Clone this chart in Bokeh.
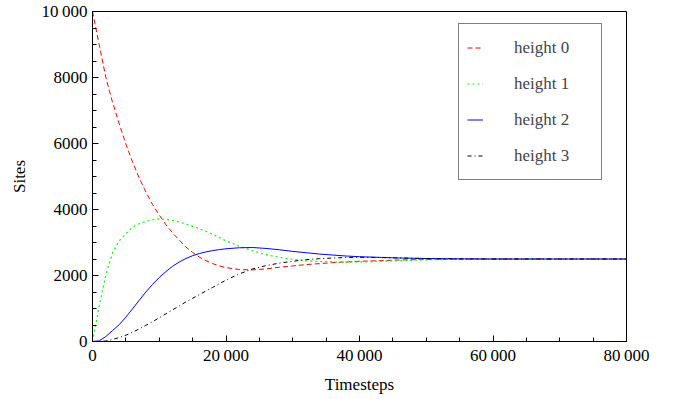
from bokeh.plotting import figure
from bokeh.models import Range1d, FixedTicker, Legend, LegendItem
from bokeh.embed import file_html
from bokeh.resources import INLINE

# ---- data ----
timesteps = [0, 1000, 2000, 3000, 4000, 5000, 6000, 7000, 8000, 9000, 10000,
             11000, 12000, 13000, 14000, 15000, 16000, 17000, 18000, 19000, 20000,
             22000, 24000, 26000, 28000, 30000, 32000, 34000, 36000, 38000, 40000,
             43000, 46000, 50000, 55000, 60000, 70000, 80000]

height0 = [10000, 9000, 8000, 7250, 6600, 5980, 5440, 4950, 4530, 4150, 3830,
           3540, 3290, 3070, 2860, 2700, 2560, 2450, 2360, 2290, 2240,
           2180, 2170, 2200, 2250, 2290, 2330, 2360, 2390, 2410, 2430,
           2450, 2470, 2485, 2495, 2500, 2500, 2500]

height1 = [0, 1060, 2020, 2680, 3050, 3260, 3470, 3570, 3640, 3690, 3715,
           3705, 3670, 3620, 3560, 3490, 3420, 3340, 3250, 3150, 3050,
           2890, 2750, 2630, 2550, 2490, 2450, 2425, 2410, 2405, 2410,
           2430, 2450, 2475, 2490, 2498, 2500, 2500]

height2 = [0, 20, 150, 330, 510, 740, 990, 1250, 1500, 1730, 1940,
           2120, 2280, 2410, 2515, 2600, 2665, 2715, 2755, 2785, 2810,
           2840, 2848, 2820, 2780, 2730, 2690, 2650, 2620, 2590, 2570,
           2550, 2530, 2515, 2505, 2500, 2500, 2500]

height3 = [0, 0, 15, 60, 120, 190, 280, 380, 490, 600, 720,
           840, 960, 1080, 1200, 1310, 1420, 1530, 1640, 1750, 1860,
           2050, 2200, 2300, 2375, 2430, 2480, 2510, 2530, 2545, 2550,
           2545, 2530, 2515, 2505, 2500, 2500, 2500]

series_labels = ["height 0", "height 1", "height 2", "height 3"]

x_ticks = [0, 20000, 40000, 60000, 80000]
x_tick_labels = ["0", "20\u2009000", "40\u2009000", "60\u2009000", "80\u2009000"]
y_ticks = [0, 2000, 4000, 6000, 8000, 10000]
y_tick_labels = ["0", "2000", "4000", "6000", "8000", "10\u2009000"]

FONT = "Liberation Serif"

p = figure(width=676, height=399, output_backend="svg", toolbar_location=None,
           x_range=Range1d(0, 80000), y_range=Range1d(0, 10000),
           min_border_left=92, min_border_right=50, min_border_top=11,
           min_border_bottom=58)

p.xgrid.visible = False
p.ygrid.visible = False
p.outline_line_color = "black"
p.outline_line_width = 1
p.background_fill_color = "white"
p.border_fill_color = "white"

p.xaxis.ticker = FixedTicker(ticks=x_ticks, minor_ticks=list(range(0, 80001, 5000)))
p.yaxis.ticker = FixedTicker(ticks=y_ticks, minor_ticks=list(range(0, 10001, 500)))
p.xaxis.major_label_overrides = {t: s for t, s in zip(x_ticks, x_tick_labels)}
p.yaxis.major_label_overrides = {t: s for t, s in zip(y_ticks, y_tick_labels)}

for ax in (p.xaxis, p.yaxis):
    ax.major_tick_in = 6
    ax.major_tick_out = 0
    ax.minor_tick_in = 4
    ax.minor_tick_out = 0
    ax.axis_line_color = "black"
    ax.major_tick_line_color = "black"
    ax.minor_tick_line_color = "black"
    ax.major_label_text_font = FONT
    ax.major_label_text_font_size = "17px"
    ax.major_label_text_color = "black"
    ax.axis_label_text_font = FONT
    ax.axis_label_text_font_size = "17px"
    ax.axis_label_text_font_style = "normal"
    ax.axis_label_text_color = "black"

p.xaxis.axis_label = "Timesteps"
p.yaxis.axis_label = "Sites"
p.xaxis.major_label_standoff = 4
p.yaxis.major_label_standoff = 5
p.xaxis.axis_label_standoff = 7
p.yaxis.axis_label_standoff = 10

r0 = p.line(timesteps, height0, line_color="#ff0000", line_width=1, line_dash="5 3")
r1 = p.line(timesteps, height1, line_color="#00ff00", line_width=1.2, line_dash="2 3")
r2 = p.line(timesteps, height2, line_color="#0000ff", line_width=1)
r3 = p.line(timesteps, height3, line_color="#000000", line_width=1, line_dash="4 3 1 3")

legend = Legend(items=[LegendItem(label=series_labels[i], renderers=[r])
                       for i, r in enumerate([r0, r1, r2, r3])],
                location=(366, 161), margin=0, padding=8, spacing=5,
                glyph_width=16, glyph_height=31, label_standoff=31,
                label_width=79, label_height=31,
                label_text_font=FONT, label_text_font_size="17px",
                border_line_color="black", border_line_width=1,
                background_fill_color="white", background_fill_alpha=1.0)
p.add_layout(legend, "center")

open("out.html", "w").write(file_html(p, INLINE))
